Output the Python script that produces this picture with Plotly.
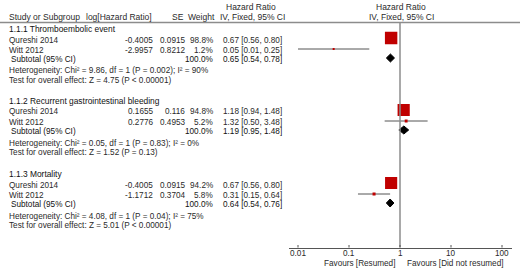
import math
import plotly.graph_objects as go

W, H = 520, 274

# ---------------- data ----------------
groups = ["1.1.1 Thromboembolic event",
          "1.1.2 Recurrent gastrointestinal bleeding",
          "1.1.3 Mortality"]
studies = [["Qureshi 2014", "Witt 2012"],
           ["Qureshi 2014", "Witt 2012"],
           ["Qureshi 2014", "Witt 2012"]]
log_hr = [["-0.4005", "-2.9957"], ["0.1655", "0.2776"], ["-0.4005", "-1.1712"]]
se = [["0.0915", "0.8212"], ["0.116", "0.4953"], ["0.0915", "0.3704"]]
weight = [[98.8, 1.2], [94.8, 5.2], [94.2, 5.8]]
hr = [[0.67, 0.05], [1.18, 1.32], [0.67, 0.31]]
hr_lo = [[0.56, 0.01], [0.94, 0.50], [0.56, 0.15]]
hr_hi = [[0.80, 0.25], [1.48, 3.48], [0.80, 0.64]]
sub_hr = [0.65, 1.19, 0.64]
sub_lo = [0.54, 0.95, 0.54]
sub_hi = [0.78, 1.48, 0.76]
heterogeneity = ["Heterogeneity: Chi² = 9.86, df = 1 (P = 0.002); I² = 90%",
                 "Heterogeneity: Chi² = 0.05, df = 1 (P = 0.83); I² = 0%",
                 "Heterogeneity: Chi² = 4.08, df = 1 (P = 0.04); I² = 75%"]
overall = ["Test for overall effect: Z = 4.75 (P < 0.00001)",
           "Test for overall effect: Z = 1.52 (P = 0.13)",
           "Test for overall effect: Z = 5.01 (P < 0.00001)"]
tick_vals = [0.01, 0.1, 1, 10, 100]
tick_text = ["0.01", "0.1", "1", "10", "100"]
favours_left = "Favours [Resumed]"
favours_right = "Favours [Did not resumed]"

# ---------------- layout helpers ----------------
FONT = "Arial, Liberation Sans, sans-serif"
TXT = "#2a2a2a"
DARK = "#111111"
FS = 8.2
AXIS_Y = 247.5        # pixel row of the x axis line
HEAD_LINE = 22.5
group_y0 = [29, 101, 174]
off = {"title": 0, "s0": 11, "s1": 21, "sub": 30, "het": 42, "test": 51}

def px(x):
    return x / W

def py(y):
    return 1 - y / H

ann = []

def text(x, y, s, anchor="left", color=TXT, size=FS, xref="paper"):
    ann.append(dict(x=px(x) if xref == "paper" else x, y=py(y), xref=xref, yref="paper",
                    text=s, showarrow=False, xanchor=anchor, yanchor="middle",
                    font=dict(family=FONT, size=size, color=color)))

# headers
text(251, 7, "Hazard Ratio", "center", size=8.5)
text(401, 7, "Hazard Ratio", "center", size=8.5)
text(7, 17, "Study or Subgroup", size=8.5)
text(154, 17, "log[Hazard Ratio]", "right", size=8.5)
text(178, 17, "SE", "center", size=8.5)
text(201, 17, "Weight", "center", size=8.5)
text(252, 17, "IV, Fixed, 95% CI", "center", size=8.5)
text(401, 17, "IV, Fixed, 95% CI", "center", size=8.5)

fig = go.Figure()

for g in range(len(groups)):
    y0 = group_y0[g]
    text(7, y0 + off["title"], groups[g], color=DARK, size=8.4)
    for i in range(len(studies[g])):
        yy = y0 + off["s%d" % i]
        text(7, yy, studies[g][i])
        text(155, yy, log_hr[g][i], "right")
        text(187, yy, se[g][i], "right")
        text(215, yy, "%.1f%%" % weight[g][i], "right")
        text(284, yy, "%.2f [%.2f, %.2f]" % (hr[g][i], hr_lo[g][i], hr_hi[g][i]), "right")
        # CI line
        fig.add_trace(go.Scatter(x=[hr_lo[g][i], hr_hi[g][i]], y=[yy - 1, yy - 1],
                                 mode="lines", line=dict(color="#555555", width=1),
                                 hoverinfo="skip", showlegend=False))
        # weighted square
        size = max(2.0, 12.5 * (weight[g][i] / 100) ** 0.5)
        fig.add_trace(go.Scatter(x=[hr[g][i]], y=[yy - 2 if weight[g][i] > 50 else yy - 1],
                                 mode="markers",
                                 marker=dict(symbol="square", size=size, color="#C00000",
                                             line=dict(width=0)),
                                 hoverinfo="skip", showlegend=False))
    ys = y0 + off["sub"]
    text(9, ys, "Subtotal (95% CI)", color=DARK)
    text(215, ys, "100.0%", "right", color=DARK)
    text(284, ys, "%.2f [%.2f, %.2f]" % (sub_hr[g], sub_lo[g], sub_hi[g]), "right", color=DARK)
    dh = 4
    fig.add_trace(go.Scatter(x=[sub_lo[g], sub_hr[g], sub_hi[g], sub_hr[g], sub_lo[g]],
                             y=[ys - 1, ys - 1 - dh, ys - 1, ys - 1 + dh, ys - 1],
                             mode="lines", fill="toself", fillcolor="#000000",
                             line=dict(color="#000000", width=1),
                             hoverinfo="skip", showlegend=False))
    text(7, y0 + off["het"], heterogeneity[g])
    text(7, y0 + off["test"], overall[g])

# tick labels (placed through the log x axis scale: annotation x is log10 on log axes)
for tv, tt in zip(tick_vals, tick_text):
    text(math.log10(tv), 253.5, tt, "center", xref="x")

# favours labels
text(397, 263.5, favours_left, "right")
text(405, 263.5, favours_right, "left")

# axis geometry: 0.01 at px 298, 51 px per decade
X0, DEC = 298, 51
ax_left, ax_right = 289, 512
lo = -2 - (X0 - ax_left) / DEC
hi = -2 + (ax_right - X0) / DEC

shapes = [
    dict(type="line", xref="paper", yref="y", x0=0, x1=1, y0=HEAD_LINE, y1=HEAD_LINE,
         line=dict(color="#8c8c8c", width=1.5)),
    dict(type="line", xref="x", yref="y", x0=1, x1=1, y0=HEAD_LINE, y1=AXIS_Y,
         line=dict(color="#8c8c8c", width=1.5)),
]
# tick marks crossing the axis line
for tv in tick_vals:
    shapes.append(dict(type="line", xref="x", yref="y", x0=tv, x1=tv,
                       y0=AXIS_Y - 2.5, y1=AXIS_Y + 2.5,
                       line=dict(color="#555555", width=1)))

fig.update_layout(
    width=W, height=H, margin=dict(l=0, r=0, t=0, b=0),
    paper_bgcolor="white", plot_bgcolor="white",
    xaxis=dict(type="log", domain=[px(ax_left), px(ax_right)], range=[lo, hi],
               tickvals=tick_vals, showticklabels=False, showgrid=False, zeroline=False,
               showline=True, linecolor="#555555", linewidth=1,
               ticks="", anchor="y"),
    yaxis=dict(domain=[1 - AXIS_Y / H, 1], range=[AXIS_Y, 0], visible=False,
               showgrid=False, zeroline=False, fixedrange=True),
    annotations=ann, shapes=shapes, showlegend=False,
)

fig.write_html("out.html", config={"displayModeBar": False},
               post_script="document.body.style.margin='0';document.body.style.padding='0';")
